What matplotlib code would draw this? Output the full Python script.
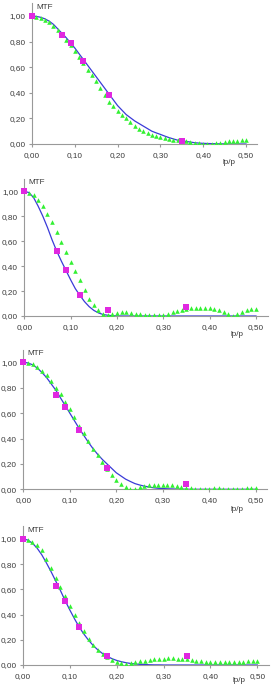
import matplotlib
matplotlib.use("Agg")
import matplotlib.pyplot as plt
from matplotlib.ticker import FuncFormatter

plt.rcParams['font.family'] = ['Liberation Sans', 'DejaVu Sans']

# frecuencias (lp/p) de las curvas muestreadas
freq = [0.00, 0.01, 0.02, 0.03, 0.04, 0.05, 0.06, 0.07, 0.08, 0.09,
        0.10, 0.11, 0.12, 0.13, 0.14, 0.15, 0.16, 0.17, 0.18, 0.19,
        0.20, 0.21, 0.22, 0.23, 0.24, 0.25, 0.26, 0.27, 0.28, 0.29,
        0.30, 0.31, 0.32, 0.33, 0.34, 0.35, 0.36, 0.37, 0.38, 0.39,
        0.40, 0.41, 0.42, 0.43, 0.44, 0.45, 0.46, 0.47, 0.48, 0.49, 0.50]

# puntos medidos (cuadrados magenta)
freq_med = [0.00, 0.07, 0.09, 0.12, 0.18, 0.35]

# panel 1
linea_1 = [1.00, 0.997, 0.99, 0.978, 0.96, 0.935, 0.90, 0.865, 0.83, 0.79, 0.75,
           0.705, 0.66, 0.615, 0.57, 0.525, 0.48, 0.435, 0.39, 0.345, 0.30,
           0.265, 0.23, 0.205, 0.18, 0.16, 0.14, 0.12, 0.10, 0.087, 0.075,
           0.062, 0.05, 0.04, 0.03, 0.025, 0.02, 0.015, 0.01, 0.007, 0.005,
           0.004, 0.003, 0.002, 0.001, 0.001, 0, 0, 0, 0, 0]
trian_1 = [1.00, 0.995, 0.985, 0.97, 0.95, 0.925, 0.89, 0.85, 0.81, 0.77, 0.73,
           0.68, 0.63, 0.58, 0.54, 0.49, 0.44, 0.38, 0.33, 0.30, 0.26,
           0.23, 0.20, 0.17, 0.14, 0.12, 0.10, 0.085, 0.07, 0.06, 0.055,
           0.047, 0.04, 0.034, 0.03, 0.026, 0.02, 0.015, 0.01, 0.005, 0.0,
           -0.003, 0.0, 0.005, 0.01, 0.015, 0.02, 0.023, 0.026, 0.028, 0.03]
medido_1 = [1.00, 0.85, 0.79, 0.65, 0.38, 0.025]

# panel 2
linea_2 = [1.00, 0.99, 0.95, 0.88, 0.80, 0.71, 0.61, 0.52, 0.44, 0.365, 0.29,
           0.22, 0.165, 0.115, 0.075, 0.045, 0.025, 0.012, 0.006, 0.002, 0.001,
           0, 0, 0, 0, 0, 0, 0, 0, 0, 0,
           0, 0, 0, 0, 0, 0, 0, 0, 0, 0,
           0, 0, 0, 0, 0, 0, 0, 0, 0, 0]
trian_2 = [1.00, 0.99, 0.97, 0.93, 0.88, 0.82, 0.75, 0.67, 0.59, 0.51, 0.43,
           0.36, 0.29, 0.21, 0.14, 0.09, 0.05, 0.02, 0.01, 0.02, 0.025,
           0.03, 0.03, 0.025, 0.02, 0.015, 0.01, 0.007, 0.005, 0.007, 0.01,
           0.02, 0.03, 0.04, 0.05, 0.058, 0.063, 0.066, 0.067, 0.066, 0.063,
           0.055, 0.045, 0.03, 0.015, 0.003, 0.015, 0.03, 0.045, 0.055, 0.06]
medido_2 = [1.00, 0.52, 0.365, 0.165, 0.045, 0.07]

# panel 3
linea_3 = [1.00, 0.995, 0.98, 0.955, 0.92, 0.88, 0.83, 0.78, 0.72, 0.66, 0.60,
           0.54, 0.48, 0.425, 0.37, 0.32, 0.275, 0.235, 0.20, 0.165, 0.13,
           0.105, 0.08, 0.062, 0.045, 0.034, 0.025, 0.018, 0.012, 0.008, 0.006,
           0.004, 0.003, 0.002, 0.001, 0.001, 0, 0, 0, 0, 0,
           0, 0, 0, 0, 0, 0, 0, 0, 0, 0]
trian_3 = [1.00, 0.995, 0.985, 0.965, 0.935, 0.90, 0.855, 0.80, 0.75, 0.69, 0.63,
           0.57, 0.50, 0.44, 0.38, 0.32, 0.27, 0.215, 0.16, 0.11, 0.07,
           0.04, 0.015, 0.003, 0.005, 0.015, 0.025, 0.03, 0.035, 0.035, 0.035,
           0.033, 0.03, 0.025, 0.02, 0.014, 0.008, 0.004, 0.002, 0.003, 0.005,
           0.007, 0.007, 0.005, 0.003, 0.002, 0.003, 0.005, 0.007, 0.008, 0.008]
medido_3 = [1.00, 0.74, 0.65, 0.47, 0.17, 0.04]

# panel 4
linea_4 = [1.00, 0.992, 0.967, 0.928, 0.875, 0.81, 0.74, 0.665, 0.59, 0.51, 0.436,
           0.366, 0.30, 0.245, 0.196, 0.154, 0.119, 0.09, 0.068, 0.05, 0.036,
           0.026, 0.018, 0.012, 0.008, 0.005, 0.004, 0.002, 0.001, 0.001, 0,
           0, 0, 0, 0, 0, 0, 0, 0, 0, 0,
           0, 0, 0, 0, 0, 0, 0, 0, 0, 0]
trian_4 = [1.00, 0.99, 0.98, 0.95, 0.91, 0.84, 0.77, 0.69, 0.62, 0.55, 0.47,
           0.40, 0.33, 0.27, 0.21, 0.16, 0.12, 0.085, 0.06, 0.04, 0.025,
           0.015, 0.01, 0.012, 0.02, 0.028, 0.035, 0.04, 0.045, 0.048, 0.05,
           0.052, 0.052, 0.05, 0.048, 0.045, 0.04, 0.035, 0.03, 0.027, 0.025,
           0.023, 0.022, 0.022, 0.022, 0.023, 0.025, 0.027, 0.03, 0.031, 0.032]
medido_4 = [1.00, 0.63, 0.51, 0.30, 0.07, 0.07]

paneles = [
    (linea_1, trian_1, medido_1),
    (linea_2, trian_2, medido_2),
    (linea_3, trian_3, medido_3),
    (linea_4, trian_4, medido_4),
]

# posicion de cada panel en pixeles: izquierda, eje x (y), px por unidad en x,
# px por unidad en y, distancia de la etiqueta lp/p bajo el eje
pos_px = [
    (32.0, 144.0, 428.0, 128.0, 18),
    (24.3, 316.0, 463.4, 124.7, 18),
    (23.3, 489.3, 465.0, 127.0, 20),
    (23.0, 665.0, 468.7, 126.0, 15),
]

W, H = 275, 685
XMAX, YMAX = 0.525, 1.10
gris = '#999999'
texto = '#3a3a3a'
fs = 5.9

fig = plt.figure(figsize=(W / 100, H / 100), dpi=100)

coma = FuncFormatter(lambda v, p: f"{v:.2f}".replace('.', ','))

for (linea, trian, medido), (izq, base, ux, uy, dlab) in zip(paneles, pos_px):
    ancho = XMAX * ux
    alto = YMAX * uy
    ax = fig.add_axes([izq / W, (H - base) / H, ancho / W, alto / H])

    ax.plot(freq, linea, color='#3a3ad8', lw=0.9, zorder=2)
    ax.plot(freq, trian, linestyle='none', marker='^', ms=3.3,
            color='#33f033', markeredgewidth=0, zorder=3)
    ax.plot(freq_med, medido, linestyle='none', marker='s', ms=3.9,
            color='#e028e0', markeredgewidth=0, zorder=4, clip_on=False)

    ax.set_xlim(0, XMAX)
    ax.set_ylim(0, YMAX)
    ax.set_xticks([0, 0.1, 0.2, 0.3, 0.4, 0.5])
    ax.set_yticks([0, 0.2, 0.4, 0.6, 0.8, 1.0])
    ax.xaxis.set_major_formatter(coma)
    ax.yaxis.set_major_formatter(coma)

    for lado in ['top', 'right']:
        ax.spines[lado].set_visible(False)
    for lado in ['left', 'bottom']:
        ax.spines[lado].set_color(gris)
        ax.spines[lado].set_linewidth(0.8)

    ax.tick_params(axis='both', direction='out', length=2.5, width=0.8,
                   color=gris, labelsize=fs, labelcolor=texto, pad=2)
    ax.tick_params(axis='x', pad=3)
    ax.patch.set_visible(False)

    ax.text(4 / ux, 1.07, 'MTF', fontsize=fs, color=texto,
            ha='left', va='center')
    ax.annotate('lp/p', xy=(0.46, 0), xycoords=ax.get_xaxis_transform(),
                xytext=(0, -dlab), textcoords='offset pixels',
                ha='center', va='center', fontsize=fs, color=texto,
                annotation_clip=False)

fig.savefig('out.png', dpi=100)
